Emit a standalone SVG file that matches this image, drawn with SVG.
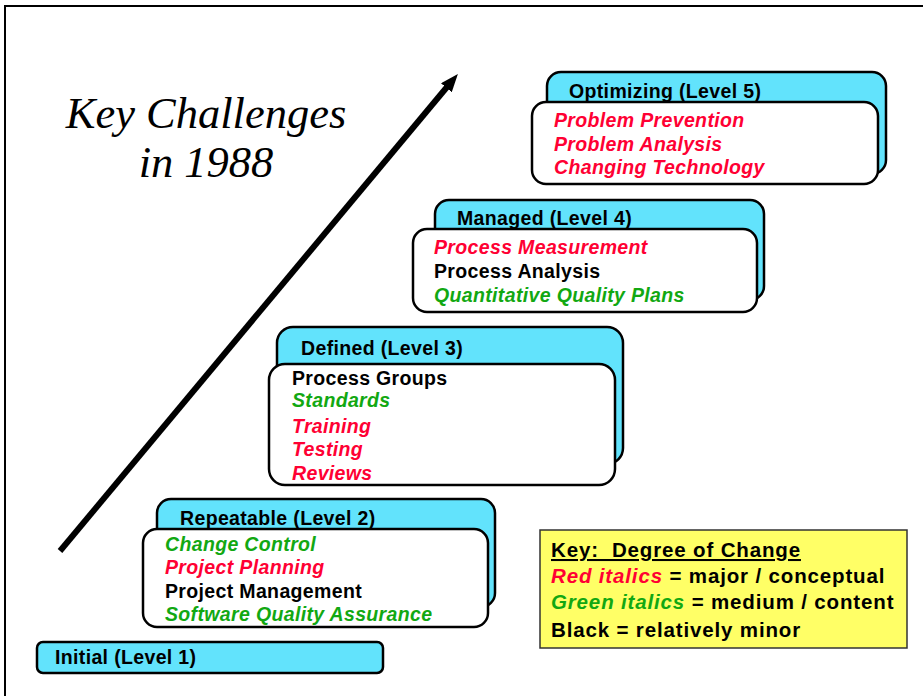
<svg xmlns="http://www.w3.org/2000/svg" width="923" height="696" viewBox="0 0 923 696">
  <style>
    .frame { fill: #ffffff; stroke: #000000; stroke-width: 2; }
    .tab { fill: #62E3FC; stroke: #000000; stroke-width: 2.5; }
    .card { fill: #ffffff; stroke: #000000; stroke-width: 2.5; }
    .key { fill: #FFFF66; stroke: #333333; stroke-width: 1.5; }
    text { font-family: "Liberation Sans", Arial, sans-serif; font-weight: bold; font-size: 19.5px; letter-spacing: 0.35px; }
    .hd { fill: #000000; }
    .red { fill: #FF0033; font-style: italic; }
    .grn { fill: #12A812; font-style: italic; }
    .blk { fill: #000000; }
    .title { font-family: "Liberation Serif", "Times New Roman", serif; font-weight: normal; font-style: italic; font-size: 44.5px; letter-spacing: 0; fill: #000000; }
    .kt { font-size: 20.5px; letter-spacing: 0.85px; }
  </style>
  <defs>
    <marker id="head" viewBox="0 0 18 14" refX="1" refY="7" markerWidth="18" markerHeight="14" orient="auto" markerUnits="userSpaceOnUse">
      <path d="M0,0 L18,7 L0,14 z" fill="#000000"/>
    </marker>
  </defs>

  <rect class="frame" x="5" y="6" width="930" height="700"/>

  <g id="title">
    <text class="title" x="206" y="128" text-anchor="middle">Key Challenges</text>
    <text class="title" x="206" y="177" text-anchor="middle">in 1988</text>
  </g>

  <g id="connectors">
    <line x1="60" y1="551" x2="447" y2="87" stroke="#000000" stroke-width="6" marker-end="url(#head)"/>
  </g>

  <g id="level5">
    <rect class="tab" x="547" y="72" width="339" height="102" rx="14"/>
    <rect class="card" x="532" y="102" width="346" height="82" rx="14"/>
    <text class="hd" x="569" y="98">Optimizing (Level 5)</text>
    <text class="red" x="554" y="127">Problem Prevention</text>
    <text class="red" x="554" y="151">Problem Analysis</text>
    <text class="red" x="554" y="174">Changing Technology</text>
  </g>

  <g id="level4">
    <rect class="tab" x="435" y="200" width="329" height="100" rx="14"/>
    <rect class="card" x="413" y="229" width="344" height="83" rx="14"/>
    <text class="hd" x="457" y="225">Managed (Level 4)</text>
    <text class="red" x="434" y="254">Process Measurement</text>
    <text class="blk" x="434" y="278">Process Analysis</text>
    <text class="grn" x="434" y="302">Quantitative Quality Plans</text>
  </g>

  <g id="level3">
    <rect class="tab" x="277" y="327" width="346" height="137" rx="16"/>
    <rect class="card" x="269" y="364" width="346" height="121" rx="16"/>
    <text class="hd" x="301" y="355">Defined (Level 3)</text>
    <text class="blk" x="292" y="385">Process Groups</text>
    <text class="grn" x="292" y="407">Standards</text>
    <text class="red" x="292" y="433">Training</text>
    <text class="red" x="292" y="456">Testing</text>
    <text class="red" x="292" y="480">Reviews</text>
  </g>

  <g id="level2">
    <rect class="tab" x="157" y="499" width="338" height="108" rx="14"/>
    <rect class="card" x="143" y="529" width="345" height="98" rx="14"/>
    <text class="hd" x="180" y="525">Repeatable (Level 2)</text>
    <text class="grn" x="165" y="551">Change Control</text>
    <text class="red" x="165" y="574">Project Planning</text>
    <text class="blk" x="165" y="598">Project Management</text>
    <text class="grn" x="165" y="621">Software Quality Assurance</text>
  </g>

  <g id="level1">
    <rect class="tab" x="37" y="642" width="346" height="31" rx="6"/>
    <text class="hd" x="55" y="664">Initial (Level 1)</text>
  </g>

  <g id="legend">
    <rect class="key" x="540" y="530" width="367" height="118"/>
    <text class="kt blk" x="551" y="557" text-decoration="underline" xml:space="preserve">Key:  Degree of Change</text>
    <text class="kt blk" x="551" y="583"><tspan class="red">Red italics</tspan> = major / conceptual</text>
    <text class="kt blk" x="551" y="609"><tspan class="grn">Green italics</tspan> = medium / content</text>
    <text class="kt blk" x="551" y="637">Black = relatively minor</text>
  </g>
</svg>
